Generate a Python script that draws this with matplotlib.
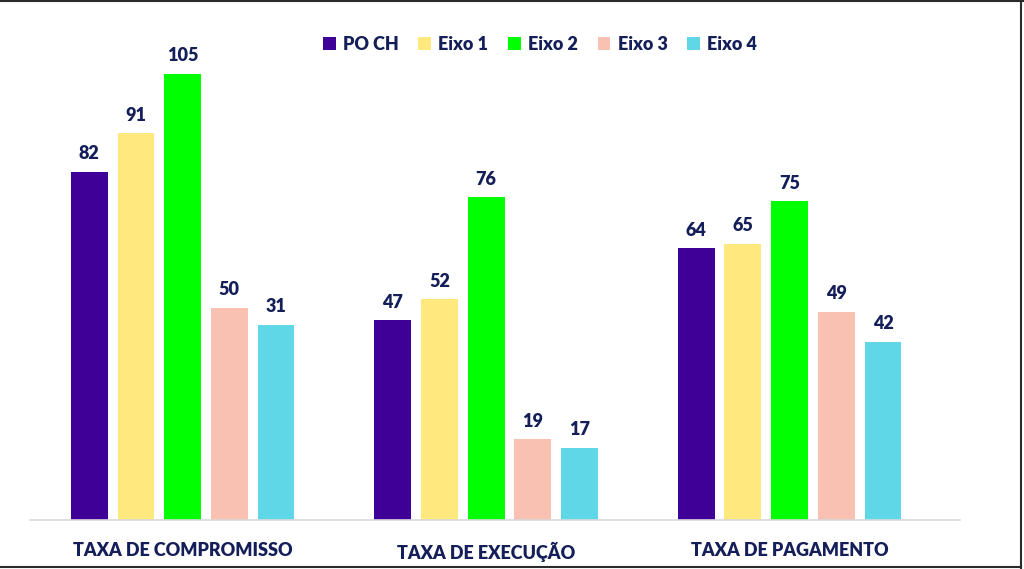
import matplotlib
matplotlib.use("Agg")
import matplotlib.pyplot as plt
from matplotlib.lines import Line2D
from matplotlib.patches import Patch
import numpy as np

categories = ["TAXA DE COMPROMISSO", "TAXA DE EXECUÇÃO", "TAXA DE PAGAMENTO"]
series = ["PO CH", "Eixo 1", "Eixo 2", "Eixo 3", "Eixo 4"]
# bar heights as drawn in the picture
heights = {
    "PO CH": [82, 47, 64],
    "Eixo 1": [91, 52, 65],
    "Eixo 2": [105, 76, 75],
    "Eixo 3": [50, 19, 49],
    "Eixo 4": [46, 17, 42],
}
# value labels as printed in the picture
labels = {
    "PO CH": ["82", "47", "64"],
    "Eixo 1": ["91", "52", "65"],
    "Eixo 2": ["105", "76", "75"],
    "Eixo 3": ["50", "19", "49"],
    "Eixo 4": ["31", "17", "42"],
}
colors = ["#3E0097", "#FFE97E", "#00FF00", "#F9C1B1", "#5FD7E6"]
text_color = "#141E58"

plt.rcParams['font.family'] = ['Lato', 'DejaVu Sans']

fig = plt.figure(figsize=(10.24, 5.69), dpi=100)
ax = fig.add_axes([30/1024, (569-520)/569, (960-30)/1024, 510/569])

group_step = 6.5
width = 0.79
centers = np.arange(len(categories)) * group_step
for i, (s, c) in enumerate(zip(series, colors)):
    xs = centers + (i - 2)
    ax.bar(xs, heights[s], width=width, color=c, label=s, zorder=2)
    for x, v, t in zip(xs, heights[s], labels[s]):
        ax.text(x, v + 2.2, t, ha='center', va='bottom', fontsize=13,
                fontweight='heavy', color=text_color)

ax.set_xlim(centers[0] - 3.27, centers[-1] + 3.65)
ax.set_ylim(0, 120)
for sp in ["top", "right", "left"]:
    ax.spines[sp].set_visible(False)
ax.spines["bottom"].set_color("#D9D9D9")
ax.spines["bottom"].set_linewidth(1.2)
ax.set_yticks([])
ax.set_xticks(centers)
ax.set_xticklabels(categories, fontsize=13, fontweight='heavy', color=text_color)
ax.tick_params(axis='x', length=0, pad=16)

handles = [Patch(facecolor=c, edgecolor='none') for c in colors]
fig.legend(handles, series, loc='center', bbox_to_anchor=(540/1024, 1 - 44/569),
           ncol=5, frameon=False, prop={'weight': 'heavy', 'size': 13},
           handlelength=0.7, handleheight=0.7, handletextpad=0.4, columnspacing=1.1,
           labelcolor=text_color)

# outer border lines (top, right, bottom)
bc = "#2B2B2B"
fig.add_artist(Line2D([0, 1], [1 - 0.5/569, 1 - 0.5/569], transform=fig.transFigure, color=bc, lw=1.5))
fig.add_artist(Line2D([1021/1024, 1021/1024], [0, 1], transform=fig.transFigure, color=bc, lw=1.5))
fig.add_artist(Line2D([0, 1021/1024], [2/569, 2/569], transform=fig.transFigure, color=bc, lw=1.5))

fig.savefig("out.png", dpi=100)
